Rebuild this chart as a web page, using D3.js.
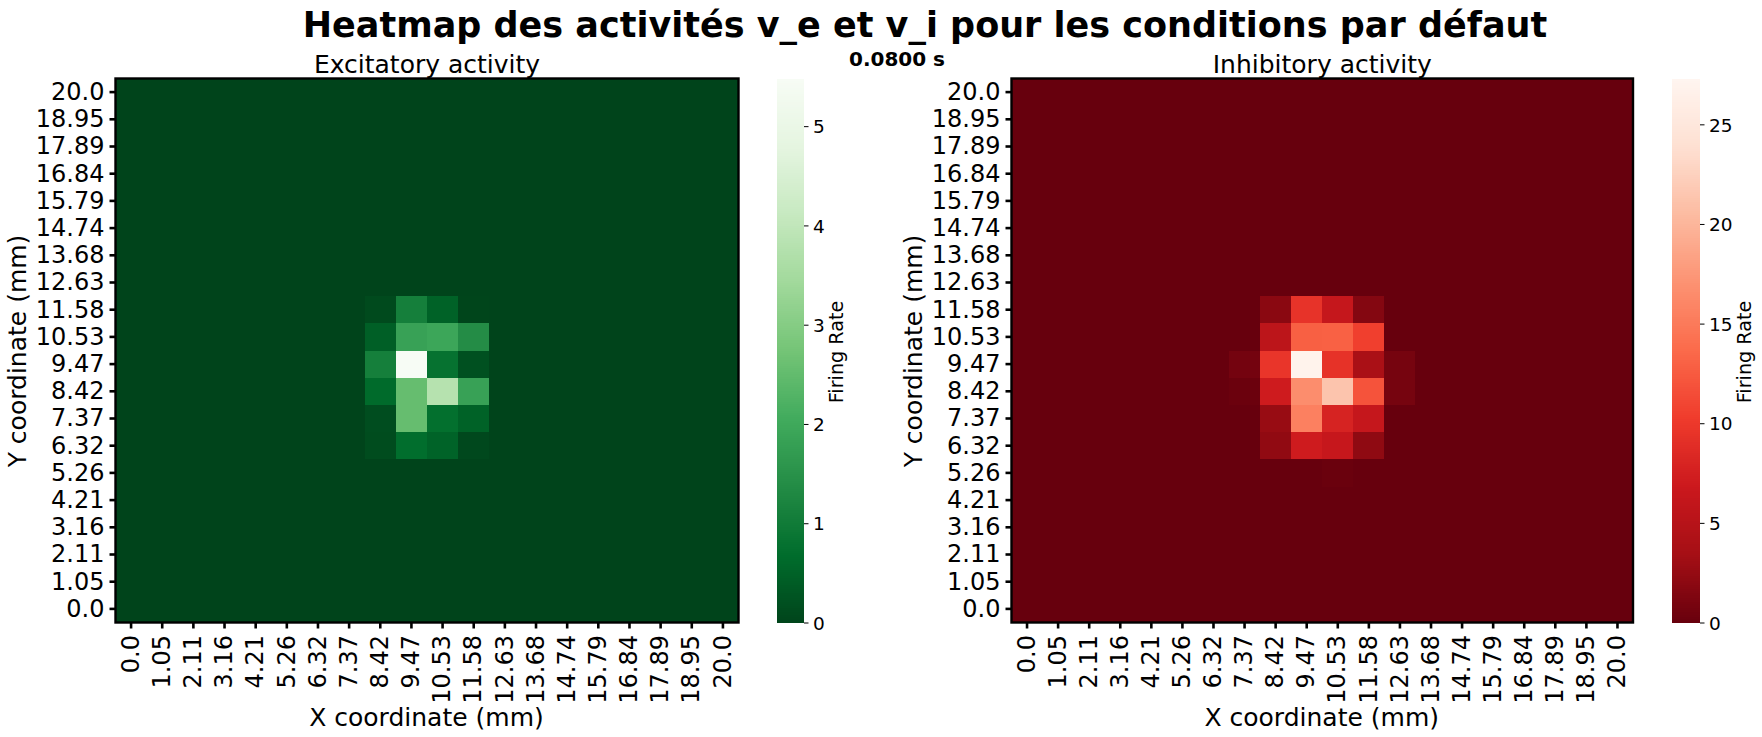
<!DOCTYPE html>
<html><head><meta charset="utf-8">
<script src="https://cdn.jsdelivr.net/npm/d3@7"></script>
<style>
html,body{margin:0;padding:0;background:#fff}
svg{display:block}
text{font-family:"DejaVu Sans";fill:#000}
</style></head><body>
<svg id="chart" width="1762" height="737"></svg>
<script>
const tickLabels = ["0.0","1.05","2.11","3.16","4.21","5.26","6.32","7.37","8.42","9.47","10.53","11.58","12.63","13.68","14.74","15.79","16.84","17.89","18.95","20.0"];
// rows listed from y = 20.0 (top) down to y = 0.0 (bottom)
const excitatory = [
[0,0,0,0,0,0,0,0,0,0,0,0,0,0,0,0,0,0,0,0],
[0,0,0,0,0,0,0,0,0,0,0,0,0,0,0,0,0,0,0,0],
[0,0,0,0,0,0,0,0,0,0,0,0,0,0,0,0,0,0,0,0],
[0,0,0,0,0,0,0,0,0,0,0,0,0,0,0,0,0,0,0,0],
[0,0,0,0,0,0,0,0,0,0,0,0,0,0,0,0,0,0,0,0],
[0,0,0,0,0,0,0,0,0,0,0,0,0,0,0,0,0,0,0,0],
[0,0,0,0,0,0,0,0,0,0,0,0,0,0,0,0,0,0,0,0],
[0,0,0,0,0,0,0,0,0,0,0,0,0,0,0,0,0,0,0,0],
[0,0,0,0,0,0,0,0,0.1,1.1,0.5,0.02,0,0,0,0,0,0,0,0],
[0,0,0,0,0,0,0,0,0.45,1.85,1.95,1.4,0,0,0,0,0,0,0,0],
[0,0,0,0,0,0,0,0,1.1,5.48,0.8,0.2,0,0,0,0,0,0,0,0],
[0,0,0,0,0,0,0,0,0.65,2.55,3.8,1.85,0,0,0,0,0,0,0,0],
[0,0,0,0,0,0,0,0,0.15,2.55,0.75,0.5,0,0,0,0,0,0,0,0],
[0,0,0,0,0,0,0,0,0.13,0.7,0.52,0.07,0,0,0,0,0,0,0,0],
[0,0,0,0,0,0,0,0,0,0,0,0,0,0,0,0,0,0,0,0],
[0,0,0,0,0,0,0,0,0,0,0,0,0,0,0,0,0,0,0,0],
[0,0,0,0,0,0,0,0,0,0,0,0,0,0,0,0,0,0,0,0],
[0,0,0,0,0,0,0,0,0,0,0,0,0,0,0,0,0,0,0,0],
[0,0,0,0,0,0,0,0,0,0,0,0,0,0,0,0,0,0,0,0],
[0,0,0,0,0,0,0,0,0,0,0,0,0,0,0,0,0,0,0,0]];
const inhibitory = [
[0,0,0,0,0,0,0,0,0,0,0,0,0,0,0,0,0,0,0,0],
[0,0,0,0,0,0,0,0,0,0,0,0,0,0,0,0,0,0,0,0],
[0,0,0,0,0,0,0,0,0,0,0,0,0,0,0,0,0,0,0,0],
[0,0,0,0,0,0,0,0,0,0,0,0,0,0,0,0,0,0,0,0],
[0,0,0,0,0,0,0,0,0,0,0,0,0,0,0,0,0,0,0,0],
[0,0,0,0,0,0,0,0,0,0,0,0,0,0,0,0,0,0,0,0],
[0,0,0,0,0,0,0,0,0,0,0,0,0,0,0,0,0,0,0,0],
[0,0,0,0,0,0,0,0,0,0,0,0,0,0,0,0,0,0,0,0],
[0,0,0,0,0,0,0,0,1.9,9.5,6.3,1.6,0,0,0,0,0,0,0,0],
[0,0,0,0,0,0,0,0,5.5,12.9,13,10.5,0,0,0,0,0,0,0,0],
[0,0,0,0,0,0,0,0.7,9.7,26.9,9.4,3.9,0.8,0,0,0,0,0,0,0],
[0,0,0,0,0,0,0,0.2,7.1,16.6,21.3,12,0.8,0,0,0,0,0,0,0],
[0,0,0,0,0,0,0,0,2.7,15.5,7.9,6.3,0,0,0,0,0,0,0,0],
[0,0,0,0,0,0,0,0,2.3,7.1,6.4,2.2,0,0,0,0,0,0,0,0],
[0,0,0,0,0,0,0,0,0,0,0.15,0,0,0,0,0,0,0,0,0],
[0,0,0,0,0,0,0,0,0,0,0,0,0,0,0,0,0,0,0,0],
[0,0,0,0,0,0,0,0,0,0,0,0,0,0,0,0,0,0,0,0],
[0,0,0,0,0,0,0,0,0,0,0,0,0,0,0,0,0,0,0,0],
[0,0,0,0,0,0,0,0,0,0,0,0,0,0,0,0,0,0,0,0],
[0,0,0,0,0,0,0,0,0,0,0,0,0,0,0,0,0,0,0,0]];
const greensRamp = ["#00441b","#006d2c","#238b45","#41ab5d","#74c476","#a1d99b","#c7e9c0","#e5f5e0","#f7fcf5"];
const redsRamp = ["#67000d","#a50f15","#cb181d","#ef3b2c","#fb6a4a","#fc9272","#fcbba1","#fee0d2","#fff5f0"];
const excitatoryMax = 5.48, inhibitoryMax = 27.3;
const excitatoryTicks = [0,1,2,3,4,5], inhibitoryTicks = [0,5,10,15,20,25];
const mainTitle = "Heatmap des activités v_e et v_i pour les conditions par défaut";
const timeLabel = "0.0800 s";

const svg = d3.select("#chart");
const top_ = 78.5, bottom_ = 622.5;

function panel(o){
  const x = d3.scaleBand().domain(tickLabels).range([o.left,o.right]);
  const y = d3.scaleBand().domain(tickLabels.slice().reverse()).range([top_,bottom_]);
  const color = d3.scaleLinear()
    .domain(o.ramp.map((_,i)=>i/(o.ramp.length-1)*o.vmax))
    .range(o.ramp).interpolate(d3.interpolateRgb).clamp(true);
  const cells = o.grid.flatMap((row,r)=>row.map((v,c)=>({v,xk:tickLabels[c],yk:tickLabels[19-r]})));
  svg.append("g").selectAll("rect").data(cells).join("rect")
    .attr("x",d=>x(d.xk)).attr("y",d=>y(d.yk))
    .attr("width",x.bandwidth()+0.5).attr("height",y.bandwidth()+0.5)
    .attr("fill",d=>color(d.v)).attr("shape-rendering","crispEdges");

  const gx = svg.append("g").attr("transform",`translate(0,${bottom_})`)
    .call(d3.axisBottom(x).tickSize(6).tickPadding(7));
  gx.selectAll("text").style("font-size","24px").style("font-family","DejaVu Sans")
    .attr("text-anchor","end").attr("transform","rotate(-90)")
    .attr("x",-12.5).attr("y",0).attr("dy","0.32em");
  const gy = svg.append("g").attr("transform",`translate(${o.left},0)`)
    .call(d3.axisLeft(y).tickSize(6).tickPadding(5));
  gy.selectAll("text").style("font-size","24px").style("font-family","DejaVu Sans").attr("dy","0.33em");
  for(const g of [gx,gy]){
    g.select(".domain").remove();
    g.selectAll("line").attr("stroke","#000").attr("stroke-width",2.6);
  }
  svg.append("rect").attr("x",o.left).attr("y",top_).attr("width",o.right-o.left).attr("height",bottom_-top_)
    .attr("fill","none").attr("stroke","#000").attr("stroke-width",2.4);

  const cx=(o.left+o.right)/2;
  svg.append("text").attr("x",cx).attr("y",73).attr("text-anchor","middle").style("font-size","25px").text(o.title);
  svg.append("text").attr("x",cx-0.5).attr("y",726).attr("text-anchor","middle").style("font-size","25px").text("X coordinate (mm)");
  svg.append("text").attr("transform",`translate(${o.left-90},351) rotate(-90)`)
    .attr("text-anchor","middle").style("font-size","25px").text("Y coordinate (mm)");

  // colour bar
  const cb = d3.scaleLinear().domain([0,o.vmax]).range([bottom_,top_]);
  const steps = d3.range(256).map(i=>(i+0.5)/256*o.vmax);
  const dv = o.vmax/256;
  svg.append("g").selectAll("rect").data(steps).join("rect")
    .attr("x",o.cbx).attr("width",o.cbw)
    .attr("y",d=>cb(d+dv/2)).attr("height",d=>cb(d-dv/2)-cb(d+dv/2)+0.6)
    .attr("fill",d=>color(d)).attr("shape-rendering","crispEdges");
  const ga = svg.append("g").attr("transform",`translate(${o.cbx+o.cbw},0)`)
    .call(d3.axisRight(cb).tickValues(o.ticks).tickFormat(d3.format("d")).tickSize(4.5).tickPadding(4.5));
  ga.select(".domain").remove();
  ga.selectAll("line").attr("stroke","#000").attr("stroke-width",1);
  ga.selectAll("text").style("font-size","18.5px").style("font-family","DejaVu Sans").attr("dy","0.36em");
  svg.append("text").attr("transform",`translate(${o.cbLabelX},352) rotate(-90)`)
    .attr("text-anchor","middle").style("font-size","19.2px").text("Firing Rate");
}

panel({left:115.5,right:738.5,grid:excitatory,ramp:greensRamp,vmax:excitatoryMax,ticks:excitatoryTicks,
  title:"Excitatory activity",cbx:777,cbw:27,cbLabelX:842.7});
panel({left:1011.5,right:1633,grid:inhibitory,ramp:redsRamp,vmax:inhibitoryMax,ticks:inhibitoryTicks,
  title:"Inhibitory activity",cbx:1672,cbw:28,cbLabelX:1750.7});

svg.append("text").attr("x",925).attr("y",37).attr("text-anchor","middle")
  .style("font-size","35px").style("font-weight","bold").text(mainTitle);
svg.append("text").attr("x",897).attr("y",66).attr("text-anchor","middle")
  .style("font-size","20px").style("font-weight","bold").text(timeLabel);
</script>
</body></html>
